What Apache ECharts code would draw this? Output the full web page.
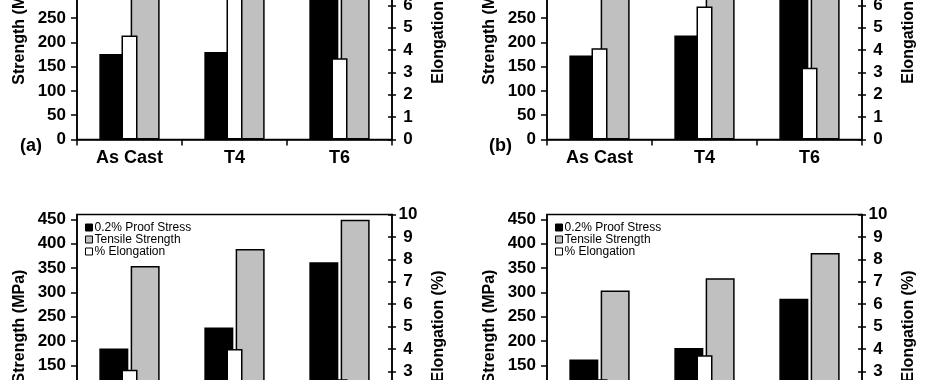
<!DOCTYPE html>
<html>
<head>
<meta charset="utf-8">
<script src="https://cdn.jsdelivr.net/npm/echarts@6/dist/echarts.min.js"></script>
<style>html,body{margin:0;padding:0;background:#fff;}#c{width:931px;height:380px;}</style>
</head>
<body>
<div id="c"></div>
<script>
const categories = ['As Cast', 'T4', 'T6'];
const seriesNames = ['0.2% Proof Stress', 'Tensile Strength', '% Elongation'];
// Panel (a)
const proofA = [176, 180, 330];
const tensileA = [310, 335, 380];
const elongA = [4.65, 7.5, 3.63];
// Panel (b)
const proofB = [173, 214, 310];
const tensileB = [300, 320, 360];
const elongB = [4.08, 5.95, 3.21];
// Panel (c)
const proofC = [185, 228, 362];
const tensileC = [354, 389, 449];
const elongC = [3.07, 4.0, 2.65];
// Panel (d)
const proofD = [162, 186, 287];
const tensileD = [304, 329, 381];
const elongD = [2.65, 3.72, 2.3];
const strengthMax = 460, strengthStep = 50;
const elongMax = 10, elongStep = 1;

const FF = '"Liberation Sans", Arial, sans-serif';
const lineS = {color: '#000', width: 1.5};
const grids = [], xAxes = [], yAxes = [], series = [], legends = [];

function panel(i, left, top, height, proof, tensile, elong, withLegend) {
  grids.push({left: left, top: top, width: 315, height: height, show: true,
    borderColor: '#000', borderWidth: 1.5, containLabel: false, outerBoundsMode: 'none'});
  xAxes.push({gridIndex: i, type: 'category', data: categories,
    axisLine: {lineStyle: lineS},
    axisTick: {show: true, length: 6, lineStyle: lineS},
    axisLabel: {color: '#000', fontSize: 18, fontWeight: 'bold', fontFamily: FF, margin: 10}});
  xAxes.push({gridIndex: i, type: 'category', data: categories, show: false});
  yAxes.push({gridIndex: i, type: 'value', position: 'left', min: 0, max: strengthMax, interval: strengthStep,
    name: 'Strength (MPa)', nameLocation: 'middle', nameGap: 49, nameRotate: 90,
    nameTextStyle: {color: '#000', fontSize: 16, fontWeight: 'bold', fontFamily: FF},
    axisLine: {show: true, lineStyle: lineS},
    axisTick: {show: true, length: 6, lineStyle: lineS},
    splitLine: {show: false},
    axisLabel: {showMaxLabel: false, color: '#000', fontSize: 17, fontWeight: 'bold', fontFamily: FF, margin: 11}});
  yAxes.push({gridIndex: i, type: 'value', position: 'right', min: 0, max: elongMax, interval: elongStep,
    name: 'Elongation (%)', nameLocation: 'middle', nameGap: 39, nameRotate: 90,
    nameTextStyle: {color: '#000', fontSize: 16, fontWeight: 'bold', fontFamily: FF},
    axisLine: {show: true, lineStyle: lineS},
    axisTick: {show: true, length: 4, lineStyle: lineS},
    splitLine: {show: false},
    axisLabel: {color: '#000', fontSize: 17, fontWeight: 'bold', fontFamily: FF, margin: 16, align: 'center'}});
  yAxes.push({gridIndex: i, type: 'value', position: 'right', min: 0, max: elongMax, interval: elongStep,
    axisLine: {show: false}, axisTick: {show: true, inside: true, length: 4, lineStyle: lineS},
    splitLine: {show: false}, axisLabel: {show: false}});
  series.push({type: 'bar', name: seriesNames[0], xAxisIndex: 2*i, yAxisIndex: 3*i, data: proof,
    barWidth: 29, barGap: '8%', itemStyle: {color: '#000', borderColor: '#000', borderWidth: 1.5}});
  series.push({type: 'bar', name: seriesNames[1], xAxisIndex: 2*i, yAxisIndex: 3*i, data: tensile,
    barWidth: 29, barGap: '8%', itemStyle: {color: '#c0c0c0', borderColor: '#000', borderWidth: 1.5}});
  series.push({type: 'bar', name: seriesNames[2], xAxisIndex: 2*i+1, yAxisIndex: 3*i+1, data: elong,
    barWidth: 16, z: 3, itemStyle: {color: '#fff', borderColor: '#000', borderWidth: 1.5}});
  if (withLegend) {
    legends.push({left: left + 8, top: top + 7, orient: 'vertical', padding: 0,
      itemWidth: 7, itemHeight: 7, itemGap: 0, selectedMode: false, icon: 'rect',
      textStyle: {color: '#000', fontSize: 12, fontFamily: FF, lineHeight: 11.3, padding: [0, 0, 0, -3]},
      data: [
        {name: seriesNames[0], itemStyle: {color: '#000', borderColor: '#000', borderWidth: 1}},
        {name: seriesNames[1], itemStyle: {color: '#c0c0c0', borderColor: '#000', borderWidth: 1}},
        {name: seriesNames[2], itemStyle: {color: '#fff', borderColor: '#000', borderWidth: 1}}
      ]});
  }
}

panel(0, 77, -84, 223.5, proofA, tensileA, elongA, false);
panel(1, 547, -84, 223.5, proofB, tensileB, elongB, false);
panel(2, 77, 214.5, 224, proofC, tensileC, elongC, true);
panel(3, 547, 214.5, 224, proofD, tensileD, elongD, true);

const chart = echarts.init(document.getElementById('c'), null, {renderer: 'canvas'});
chart.setOption({
  animation: false,
  backgroundColor: '#fff',
  grid: grids, xAxis: xAxes, yAxis: yAxes, series: series, legend: legends,
  graphic: [
    {type: 'text', left: 20, top: 137, style: {text: '(a)', font: 'bold 18px ' + FF, fill: '#000'}},
    {type: 'text', left: 489, top: 137, style: {text: '(b)', font: 'bold 18px ' + FF, fill: '#000'}}
  ]
});
</script>
</body>
</html>
